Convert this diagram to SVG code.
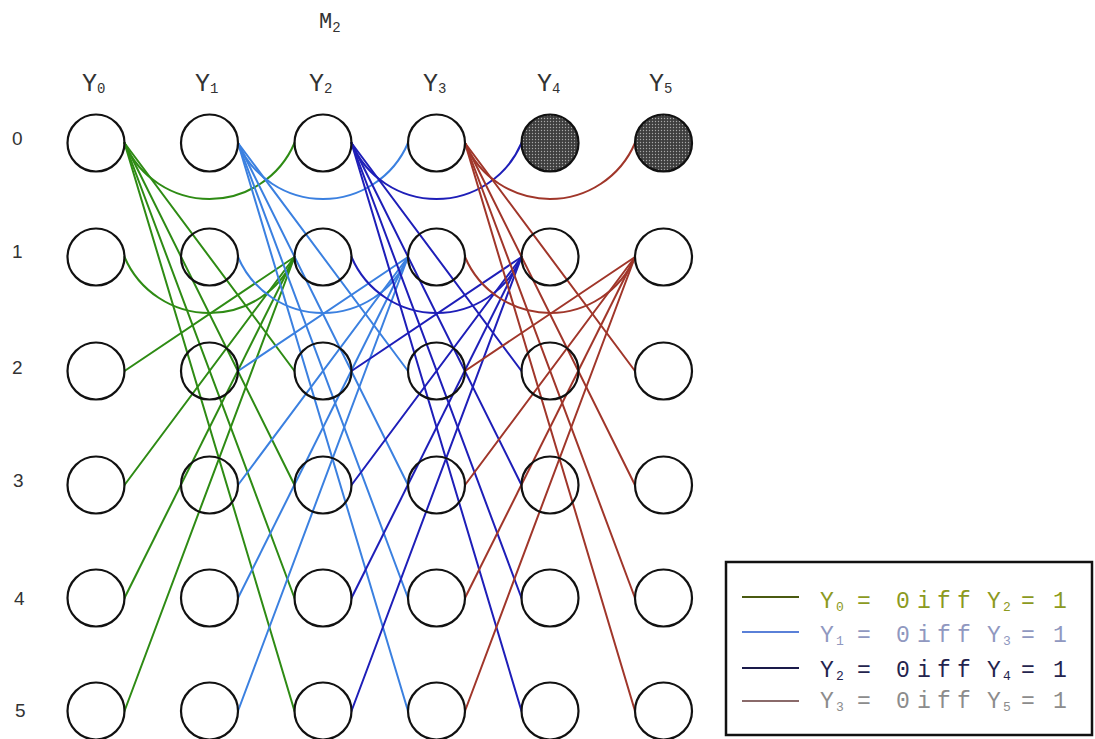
<svg xmlns="http://www.w3.org/2000/svg" width="1095" height="739" viewBox="0 0 1095 739">
<style>
.n{fill:none;stroke:#111;stroke-width:2.2}
.f{fill:url(#stip);stroke:#111;stroke-width:2.2}
.c{fill:none;stroke-width:2;stroke-linecap:round}
.g{stroke:#2e8b14}
.lb{stroke:#3b80e0}
.db{stroke:#1e1eb8}
.rd{stroke:#a0362a}
.lab{font-family:"Liberation Mono","DejaVu Sans Mono",monospace;font-size:25px;fill:#333}
.sub{font-size:14px}
.row{font-family:"Liberation Sans",Arial,sans-serif;font-size:19px;fill:#333}
.leg{font-family:"Liberation Mono","DejaVu Sans Mono",monospace;font-size:23px}
.ls{font-size:13px}
</style>
<defs>
<pattern id="stip" width="3" height="3" patternUnits="userSpaceOnUse">
<rect width="3" height="3" fill="#3e3e3e"/>
<circle cx="1.5" cy="1.5" r="0.7" fill="#a8a8a8"/>
</pattern>
</defs>
<rect width="1095" height="739" fill="#fff"/>
<g id="connectors">
<g id="g-y0-y2">
<path class="c g" d="M124.5 143 A92.5 92.5 0 0 0 294.5 143"/>
<path class="c g" d="M124.5 143 L294.5 371"/>
<path class="c g" d="M124.5 143 L294.5 485"/>
<path class="c g" d="M124.5 143 L294.5 598"/>
<path class="c g" d="M124.5 143 L294.5 711"/>
<path class="c g" d="M124.5 257 A92.5 92.5 0 0 0 294.5 257"/>
<path class="c g" d="M294.5 257 L124.5 371"/>
<path class="c g" d="M294.5 257 L124.5 485"/>
<path class="c g" d="M294.5 257 L124.5 598"/>
<path class="c g" d="M294.5 257 L124.5 711"/>
</g>
<g id="g-y1-y3">
<path class="c lb" d="M238 143 A92.5 92.5 0 0 0 408 143"/>
<path class="c lb" d="M238 143 L408 371"/>
<path class="c lb" d="M238 143 L408 485"/>
<path class="c lb" d="M238 143 L408 598"/>
<path class="c lb" d="M238 143 L408 711"/>
<path class="c lb" d="M238 257 A92.5 92.5 0 0 0 408 257"/>
<path class="c lb" d="M408 257 L238 371"/>
<path class="c lb" d="M408 257 L238 485"/>
<path class="c lb" d="M408 257 L238 598"/>
<path class="c lb" d="M408 257 L238 711"/>
</g>
<g id="g-y2-y4">
<path class="c db" d="M351.5 143 A92.5 92.5 0 0 0 521.5 143"/>
<path class="c db" d="M351.5 143 L521.5 371"/>
<path class="c db" d="M351.5 143 L521.5 485"/>
<path class="c db" d="M351.5 143 L521.5 598"/>
<path class="c db" d="M351.5 143 L521.5 711"/>
<path class="c db" d="M351.5 257 A92.5 92.5 0 0 0 521.5 257"/>
<path class="c db" d="M521.5 257 L351.5 371"/>
<path class="c db" d="M521.5 257 L351.5 485"/>
<path class="c db" d="M521.5 257 L351.5 598"/>
<path class="c db" d="M521.5 257 L351.5 711"/>
</g>
<g id="g-y3-y5">
<path class="c rd" d="M465 143 A92.5 92.5 0 0 0 635 143"/>
<path class="c rd" d="M465 143 L635 371"/>
<path class="c rd" d="M465 143 L635 485"/>
<path class="c rd" d="M465 143 L635 598"/>
<path class="c rd" d="M465 143 L635 711"/>
<path class="c rd" d="M465 257 A92.5 92.5 0 0 0 635 257"/>
<path class="c rd" d="M635 257 L465 371"/>
<path class="c rd" d="M635 257 L465 485"/>
<path class="c rd" d="M635 257 L465 598"/>
<path class="c rd" d="M635 257 L465 711"/>
</g>
</g>
<g id="nodes">
<g id="y0"><circle class="n" cx="96" cy="143" r="28.5"/><circle class="n" cx="96" cy="257" r="28.5"/><circle class="n" cx="96" cy="371" r="28.5"/><circle class="n" cx="96" cy="485" r="28.5"/><circle class="n" cx="96" cy="598" r="28.5"/><circle class="n" cx="96" cy="711" r="28.5"/></g>
<g id="y1"><circle class="n" cx="209.5" cy="143" r="28.5"/><circle class="n" cx="209.5" cy="257" r="28.5"/><circle class="n" cx="209.5" cy="371" r="28.5"/><circle class="n" cx="209.5" cy="485" r="28.5"/><circle class="n" cx="209.5" cy="598" r="28.5"/><circle class="n" cx="209.5" cy="711" r="28.5"/></g>
<g id="y2"><circle class="n" cx="323" cy="143" r="28.5"/><circle class="n" cx="323" cy="257" r="28.5"/><circle class="n" cx="323" cy="371" r="28.5"/><circle class="n" cx="323" cy="485" r="28.5"/><circle class="n" cx="323" cy="598" r="28.5"/><circle class="n" cx="323" cy="711" r="28.5"/></g>
<g id="y3"><circle class="n" cx="436.5" cy="143" r="28.5"/><circle class="n" cx="436.5" cy="257" r="28.5"/><circle class="n" cx="436.5" cy="371" r="28.5"/><circle class="n" cx="436.5" cy="485" r="28.5"/><circle class="n" cx="436.5" cy="598" r="28.5"/><circle class="n" cx="436.5" cy="711" r="28.5"/></g>
<g id="y4"><circle class="f" cx="550" cy="143" r="28.5"/><circle class="n" cx="550" cy="257" r="28.5"/><circle class="n" cx="550" cy="371" r="28.5"/><circle class="n" cx="550" cy="485" r="28.5"/><circle class="n" cx="550" cy="598" r="28.5"/><circle class="n" cx="550" cy="711" r="28.5"/></g>
<g id="y5"><circle class="f" cx="663.5" cy="143" r="28.5"/><circle class="n" cx="663.5" cy="257" r="28.5"/><circle class="n" cx="663.5" cy="371" r="28.5"/><circle class="n" cx="663.5" cy="485" r="28.5"/><circle class="n" cx="663.5" cy="598" r="28.5"/><circle class="n" cx="663.5" cy="711" r="28.5"/></g>
</g>
<g id="labels">
<text class="lab" x="319" y="28" style="font-size:22px">M<tspan class="sub" dy="4">2</tspan></text>
<text class="lab" x="82" y="91">Y<tspan class="sub" dy="2">0</tspan></text>
<text class="lab" x="195" y="91">Y<tspan class="sub" dy="2">1</tspan></text>
<text class="lab" x="309" y="91">Y<tspan class="sub" dy="2">2</tspan></text>
<text class="lab" x="423" y="91">Y<tspan class="sub" dy="2">3</tspan></text>
<text class="lab" x="537" y="91">Y<tspan class="sub" dy="2">4</tspan></text>
<text class="lab" x="649" y="91">Y<tspan class="sub" dy="2">5</tspan></text>
<text class="row" x="12" y="145">0</text>
<text class="row" x="12" y="258">1</text>
<text class="row" x="12" y="374">2</text>
<text class="row" x="13" y="487">3</text>
<text class="row" x="14" y="605">4</text>
<text class="row" x="15" y="717">5</text>
</g>
<g id="legend">
<rect x="726" y="562" width="366" height="173" fill="none" stroke="#111" stroke-width="2.5"/>
<line x1="742" y1="597" x2="799" y2="597" stroke="#4a5a10" stroke-width="2"/>
<line x1="742" y1="632" x2="799" y2="632" stroke="#5a80d8" stroke-width="2"/>
<line x1="742" y1="668" x2="799" y2="668" stroke="#1a1a4a" stroke-width="2"/>
<line x1="742" y1="701" x2="799" y2="701" stroke="#8a6a6a" stroke-width="2"/>
<text class="leg" fill="#8c9a1e"><tspan x="820" y="608">Y</tspan><tspan class="ls" x="836" y="611">0</tspan><tspan x="857" y="608">=</tspan><tspan x="896" y="608">0</tspan><tspan x="917" y="608">i</tspan><tspan x="937" y="608">f</tspan><tspan x="957" y="608">f</tspan><tspan x="987" y="608">Y</tspan><tspan class="ls" x="1003" y="611">2</tspan><tspan x="1021" y="608">=</tspan><tspan x="1053" y="608">1</tspan></text>
<text class="leg" fill="#9098c0"><tspan x="820" y="642">Y</tspan><tspan class="ls" x="836" y="645">1</tspan><tspan x="857" y="642">=</tspan><tspan x="896" y="642">0</tspan><tspan x="917" y="642">i</tspan><tspan x="937" y="642">f</tspan><tspan x="957" y="642">f</tspan><tspan x="987" y="642">Y</tspan><tspan class="ls" x="1003" y="645">3</tspan><tspan x="1021" y="642">=</tspan><tspan x="1053" y="642">1</tspan></text>
<text class="leg" fill="#24244e"><tspan x="820" y="677">Y</tspan><tspan class="ls" x="836" y="680">2</tspan><tspan x="857" y="677">=</tspan><tspan x="896" y="677">0</tspan><tspan x="917" y="677">i</tspan><tspan x="937" y="677">f</tspan><tspan x="957" y="677">f</tspan><tspan x="987" y="677">Y</tspan><tspan class="ls" x="1003" y="680">4</tspan><tspan x="1021" y="677">=</tspan><tspan x="1053" y="677">1</tspan></text>
<text class="leg" fill="#8c8c8c"><tspan x="820" y="708">Y</tspan><tspan class="ls" x="836" y="711">3</tspan><tspan x="857" y="708">=</tspan><tspan x="896" y="708">0</tspan><tspan x="917" y="708">i</tspan><tspan x="937" y="708">f</tspan><tspan x="957" y="708">f</tspan><tspan x="987" y="708">Y</tspan><tspan class="ls" x="1003" y="711">5</tspan><tspan x="1021" y="708">=</tspan><tspan x="1053" y="708">1</tspan></text>
</g>
</svg>
